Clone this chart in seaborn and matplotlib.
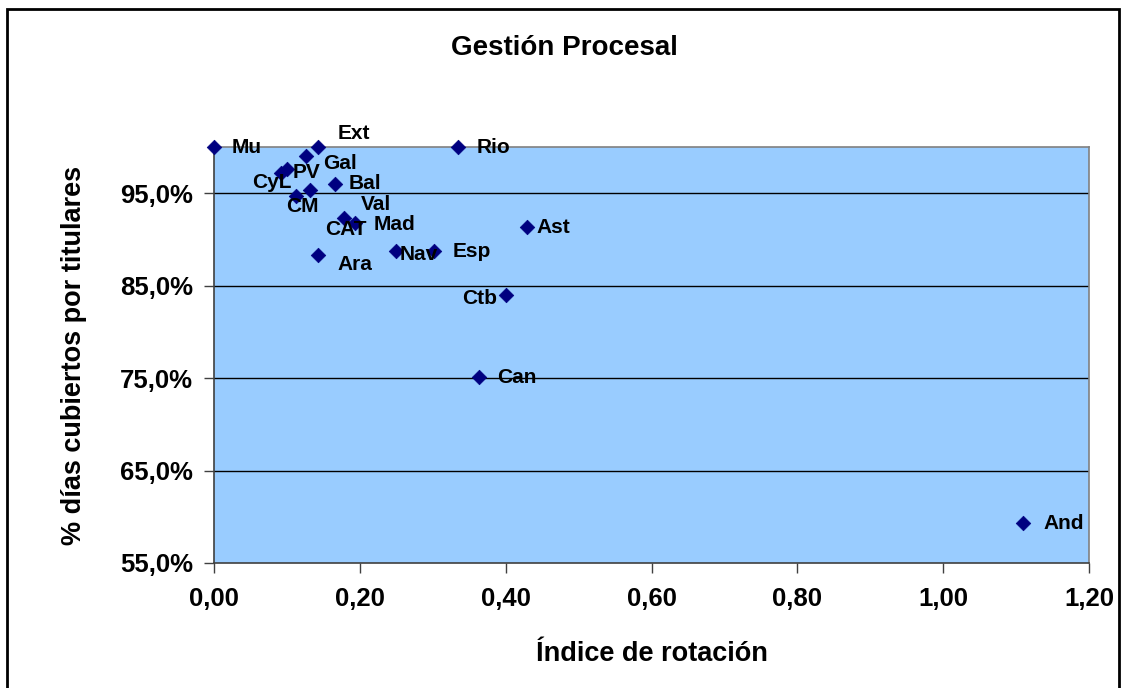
import matplotlib
matplotlib.use('Agg')
import matplotlib.pyplot as plt
import matplotlib.ticker as mticker
from matplotlib.patches import Rectangle
import pandas as pd
import seaborn as sns

# Data
regions = ['Mu', 'Ext', 'Rio', 'Gal', 'PV', 'CyL', 'Bal', 'CM', 'Val', 'CAT',
           'Mad', 'Ara', 'Nav', 'Esp', 'Ast', 'Ctb', 'Can', 'And']
rotation = [0.000, 0.143, 0.334, 0.126, 0.100, 0.092, 0.166, 0.112, 0.131, 0.178,
            0.194, 0.143, 0.250, 0.302, 0.429, 0.401, 0.363, 1.109]
coverage = [100.0, 100.0, 100.0, 99.0, 97.6, 97.2, 96.0, 94.7, 95.3, 92.3,
            91.8, 88.3, 88.7, 88.7, 91.3, 84.0, 75.1, 59.3]

# label offsets in pixels (label left edge, vertical centre) relative to the point
label_offsets = {'Mu': (18, 0), 'Ext': (19, 14), 'Rio': (19, 0), 'Gal': (17, -7),
                 'PV': (6, -3), 'CyL': (-29, -10), 'Bal': (14, 1), 'CM': (-10, -10),
                 'Val': (51, -14), 'CAT': (-19, -11), 'Mad': (18, -2), 'Ara': (19, -9),
                 'Nav': (3, -3), 'Esp': (18, 0), 'Ast': (10, 0), 'Ctb': (-44, -4),
                 'Can': (18, 0), 'And': (21, 0)}

df = pd.DataFrame({'region': regions, 'rotation': rotation, 'coverage': coverage})

sns.set_style('white')
plt.rcParams['font.family'] = ['Liberation Sans', 'DejaVu Sans']
plt.rcParams['font.weight'] = 'bold'
plt.rcParams['text.color'] = 'black'
plt.rcParams['axes.labelcolor'] = 'black'
plt.rcParams['xtick.color'] = 'black'
plt.rcParams['ytick.color'] = 'black'
plt.rcParams['xtick.bottom'] = True
plt.rcParams['ytick.left'] = True

fig = plt.figure(figsize=(11.25, 6.88), dpi=100)
ax = fig.add_axes([0.1902, 0.1817, 0.778, 0.6046])
ax.set_facecolor('#99CCFF')

# Gridlines
for yv in [65, 75, 85, 95]:
    ax.axhline(yv, color='black', linewidth=1.0, zorder=1)

sns.scatterplot(data=df, x='rotation', y='coverage', marker='D', s=55,
                color='#000080', edgecolor='#000080', linewidth=0.5,
                ax=ax, zorder=3, clip_on=False)

for name, xv, yv in zip(regions, rotation, coverage):
    dx, dy = label_offsets[name]
    ax.annotate(name, (xv, yv), xytext=(dx, dy), textcoords='offset pixels',
                ha='left', va='center', fontsize=15, fontweight='bold',
                color='black', zorder=4, annotation_clip=False)

ax.set_xlim(0, 1.2)
ax.set_ylim(55, 100)
ax.set_xticks([0, 0.2, 0.4, 0.6, 0.8, 1.0, 1.2])
ax.set_yticks([55, 65, 75, 85, 95])
ax.xaxis.set_major_formatter(mticker.FuncFormatter(lambda v, p: f'{v:.2f}'.replace('.', ',')))
ax.yaxis.set_major_formatter(mticker.FuncFormatter(lambda v, p: f'{v:.1f}%'.replace('.', ',')))
ax.tick_params(axis='both', direction='out', length=7, width=1, color='#404040',
               labelsize=18.5, labelcolor='black')
ax.tick_params(axis='y', pad=8)
ax.tick_params(axis='x', pad=10)
for lab in ax.get_xticklabels() + ax.get_yticklabels():
    lab.set_fontweight('bold')

for side in ['top', 'right']:
    ax.spines[side].set_color('#808080')
    ax.spines[side].set_linewidth(1.2)
for side in ['left', 'bottom']:
    ax.spines[side].set_color('#404040')
    ax.spines[side].set_linewidth(1.2)

ax.set_xlabel('Índice de rotación', fontsize=19.5, fontweight='bold', labelpad=22)
ax.set_ylabel('% días cubiertos por titulares', fontsize=19.5, fontweight='bold', labelpad=24)
ax.grid(False)

fig.text(0.502, 0.930, 'Gestión Procesal', ha='center', va='center',
         fontsize=20, fontweight='bold')

# Outer chart border
fig.patches.append(Rectangle((7 / 1125, -0.01), 1112 / 1125, 1 - 9 / 688 + 0.01,
                             transform=fig.transFigure, fill=False,
                             edgecolor='black', linewidth=2, zorder=0))

fig.savefig('out.png', dpi=100)
